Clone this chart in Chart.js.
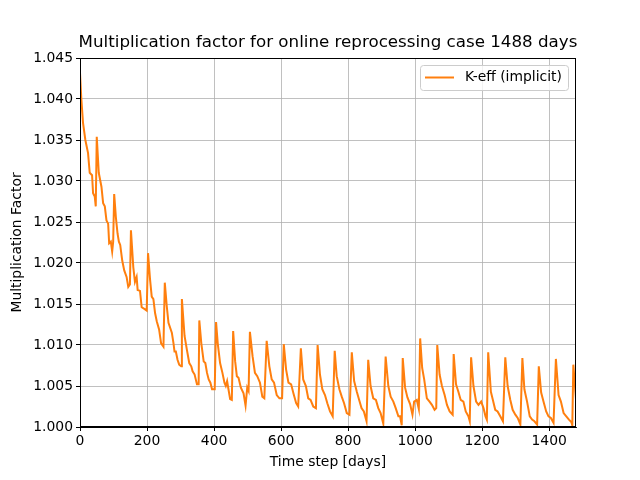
<!DOCTYPE html>
<html>
<head>
<meta charset="utf-8">
<script src="https://cdn.jsdelivr.net/npm/chart.js@4/dist/chart.umd.min.js"></script>
<style>
    html, body { margin: 0; padding: 0; background: #fff; }
    #wrap { width: 640px; height: 480px; }
</style>
</head>
<body>
<div id="wrap"><canvas id="keffChart" width="640" height="480"></canvas></div>
<script>
// Datos (días, factor de multiplicación)
const days = [
    0, 4, 9, 16, 24, 29, 36, 39, 44, 47,
    50, 56, 64, 69, 74, 79, 84, 87, 92, 96, 99,
    102, 107, 112, 116, 120, 126, 132, 139, 144, 149,
    152, 159, 164, 169, 172, 179, 184, 192, 199,
    203, 209, 214, 219, 224, 229, 236, 242, 249,
    253, 259, 264, 274, 279, 282, 286, 291, 296, 302,
    304, 312, 319, 326, 332, 336, 342, 349, 354,
    356, 362, 369, 374, 379, 384, 389, 394, 402,
    406, 411, 418, 425, 431, 435, 439, 443, 448, 453,
    457, 463, 468, 473, 480, 488, 494, 499, 503,
    507, 515, 522, 529, 537, 544, 550,
    557, 565, 572, 579, 587, 595, 603,
    608, 615, 622, 630, 637, 645, 651,
    659, 666, 674, 681, 688, 696, 704,
    709, 716, 723, 731, 738, 746, 754,
    760, 766, 774, 781, 788, 796, 804,
    811, 818, 826, 833, 840, 847, 855,
    860, 867, 875, 883, 890, 897, 905,
    912, 920, 927, 935, 942, 950, 955, 960,
    963, 970, 977, 985, 992, 997, 1005, 1011,
    1015, 1021, 1027, 1035, 1043, 1050, 1058, 1063,
    1066, 1073, 1080, 1088, 1095, 1103, 1112,
    1115, 1122, 1129, 1136, 1144, 1151, 1159, 1163,
    1167, 1174, 1182, 1189, 1197, 1204, 1210, 1214,
    1218, 1226, 1232, 1239, 1246, 1254, 1262,
    1269, 1276, 1284, 1291, 1299, 1306, 1314,
    1320, 1326, 1334, 1342, 1349, 1356, 1364,
    1369, 1376, 1383, 1391, 1398, 1405, 1413,
    1420, 1428, 1435, 1443, 1451, 1459, 1466, 1469,
    1472, 1480
];
const keff = [
    1.0432, 1.0400, 1.0371, 1.0350, 1.0334, 1.0310, 1.0307, 1.0285, 1.0281, 1.0269,
    1.0354, 1.0310, 1.0293, 1.0273, 1.0269, 1.0252, 1.0248, 1.0224, 1.0226, 1.0214, 1.0226,
    1.0284, 1.0256, 1.0236, 1.0226, 1.0222, 1.0203, 1.0191, 1.0183, 1.0171, 1.0174,
    1.0240, 1.0195, 1.0177, 1.0183, 1.0167, 1.0166, 1.0146, 1.0144, 1.0142,
    1.0212, 1.0180, 1.0159, 1.0156, 1.0139, 1.0129, 1.0119, 1.0102, 1.0098,
    1.0176, 1.0147, 1.0127, 1.0115, 1.0102, 1.0092, 1.0092, 1.0082, 1.0076, 1.0074,
    1.0156, 1.0111, 1.0094, 1.0078, 1.0074, 1.0068, 1.0064, 1.0052, 1.0052,
    1.0130, 1.0102, 1.0080, 1.0078, 1.0066, 1.0058, 1.0054, 1.0046, 1.0046,
    1.0128, 1.0102, 1.0078, 1.0066, 1.0054, 1.0050, 1.0056, 1.0046, 1.0034, 1.0033,
    1.0117, 1.0080, 1.0062, 1.0060, 1.0048, 1.0041, 1.0026, 1.0048, 1.0044,
    1.0116, 1.0086, 1.0066, 1.0062, 1.0054, 1.0037, 1.0035,
    1.0105, 1.0074, 1.0058, 1.0054, 1.0039, 1.0035, 1.0035,
    1.0101, 1.0070, 1.0054, 1.0052, 1.0041, 1.0029, 1.0025,
    1.0096, 1.0058, 1.0050, 1.0035, 1.0033, 1.0025, 1.0023,
    1.0100, 1.0064, 1.0046, 1.0039, 1.0029, 1.0019, 1.0013,
    1.0093, 1.0062, 1.0046, 1.0037, 1.0029, 1.0017, 1.0015,
    1.0091, 1.0056, 1.0043, 1.0033, 1.0023, 1.0019, 1.0007,
    1.0082, 1.0050, 1.0035, 1.0033, 1.0023, 1.0017, 1.0004,
    1.0086, 1.0050, 1.0037, 1.0031, 1.0023, 1.0013, 1.0013, 1.0002,
    1.0084, 1.0048, 1.0036, 1.0028, 1.0015, 1.0031, 1.0033, 1.0022,
    1.0108, 1.0072, 1.0058, 1.0035, 1.0031, 1.0027, 1.0021, 1.0023,
    1.0100, 1.0064, 1.0050, 1.0039, 1.0027, 1.0019, 1.0015,
    1.0089, 1.0052, 1.0043, 1.0033, 1.0031, 1.0019, 1.0013, 1.0007,
    1.0085, 1.0050, 1.0031, 1.0027, 1.0031, 1.0023, 1.0013, 1.0009,
    1.0091, 1.0043, 1.0033, 1.0021, 1.0019, 1.0013, 1.0007,
    1.0085, 1.0050, 1.0033, 1.0021, 1.0015, 1.0011, 1.0003,
    1.0084, 1.0046, 1.0031, 1.0013, 1.0009, 1.0007, 1.0003,
    1.0074, 1.0042, 1.0031, 1.0019, 1.0013, 1.0011, 1.0005,
    1.0083, 1.0039, 1.0031, 1.0017, 1.0013, 1.0009, 1.0006, 1.0002,
    1.0076, 1.0034
];
const xTicks = [0, 200, 400, 600, 800, 1000, 1200, 1400];
const yTicks = [1.000, 1.005, 1.010, 1.015, 1.020, 1.025, 1.030, 1.035, 1.040, 1.045];
const seriesLabel = 'K-eff (implicit)';
const chartTitle = 'Multiplication factor for online reprocessing case 1488 days';

const FONT = "'DejaVu Sans', sans-serif";
const ORANGE = '#ff7f0e';

// Marco, título y leyenda al estilo matplotlib
const decorPlugin = {
    id: 'decor',
    afterDraw(chart) {
        const { ctx, chartArea: a } = chart;
        ctx.save();
        ctx.strokeStyle = '#000';
        ctx.lineWidth = 1;
        ctx.strokeRect(a.left + 0.5, a.top + 0.5, a.right - a.left - 1, a.bottom - a.top - 1);

        ctx.fillStyle = '#000';
        ctx.font = '16.7px ' + FONT;
        ctx.textAlign = 'center';
        ctx.textBaseline = 'middle';
        ctx.fillText(chartTitle, (a.left + a.right) / 2, 43);

        // leyenda
        const bx = 420, by = 65, bw = 148, bh = 25;
        ctx.beginPath();
        ctx.roundRect(bx + 0.5, by + 0.5, bw, bh, 3);
        ctx.fillStyle = 'rgba(255,255,255,0.8)';
        ctx.fill();
        ctx.strokeStyle = '#cccccc';
        ctx.stroke();
        ctx.beginPath();
        ctx.moveTo(bx + 5, by + 12.5);
        ctx.lineTo(bx + 34, by + 12.5);
        ctx.strokeStyle = ORANGE;
        ctx.lineWidth = 2;
        ctx.stroke();
        ctx.fillStyle = '#000';
        ctx.font = '13.9px ' + FONT;
        ctx.textAlign = 'left';
        ctx.fillText(seriesLabel, bx + 45, by + 12.5);
        ctx.restore();
    }
};

const ctx = document.getElementById('keffChart').getContext('2d');
const keffChart = new Chart(ctx, {
    type: 'line',
    data: {
        datasets: [{
            label: seriesLabel,
            data: days.map((d, i) => ({ x: d, y: keff[i] })),
            borderColor: ORANGE,
            borderWidth: 2,
            pointRadius: 0,
            tension: 0,
            fill: false,
        }]
    },
    options: {
        responsive: false,
        animation: false,
        layout: { padding: { top: 58, right: 64, left: 0, bottom: 0 } },
        plugins: {
            legend: { display: false },
            title: { display: false },
            tooltip: { enabled: false },
        },
        scales: {
            x: {
                type: 'linear',
                min: 0,
                max: 1480,
                afterFit: (s) => { s.height = 53; },
                afterBuildTicks: (s) => { s.ticks = xTicks.map(v => ({ value: v })); },
                grid: { color: '#b0b0b0', lineWidth: 0.8, tickLength: 4, tickColor: '#000', tickWidth: 1 },
                border: { color: '#000', width: 1 },
                ticks: {
                    color: '#000', font: { family: FONT, size: 13.9 }, padding: 2, maxRotation: 0,
                    callback: (v) => String(v)
                },
                title: {
                    display: true, text: 'Time step [days]', color: '#000',
                    font: { family: FONT, size: 13.9 }, padding: { top: 0, bottom: 9 }
                }
            },
            y: {
                type: 'linear',
                min: 1.000,
                max: 1.045,
                afterFit: (s) => { s.width = 80; },
                afterBuildTicks: (s) => { s.ticks = yTicks.map(v => ({ value: v })); },
                grid: { color: '#b0b0b0', lineWidth: 0.8, tickLength: 4, tickColor: '#000', tickWidth: 1 },
                border: { color: '#000', width: 1 },
                ticks: {
                    color: '#000', font: { family: FONT, size: 13.9 }, padding: 3,
                    callback: (v) => Number(v).toFixed(3)
                },
                title: {
                    display: true, text: 'Multiplication Factor', color: '#000',
                    font: { family: FONT, size: 13.9 }, padding: { top: 9, bottom: 0 }
                }
            }
        }
    },
    plugins: [decorPlugin]
});
</script>
</body>
</html>
